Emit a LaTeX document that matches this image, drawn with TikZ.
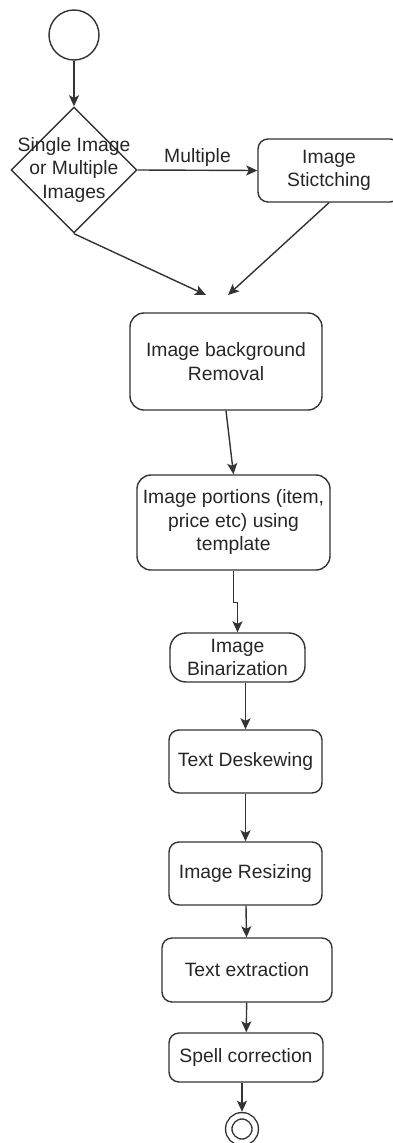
\documentclass[tikz,border=0pt]{standalone}
\usepackage{fontspec}
\setmainfont{Liberation Sans}
\usetikzlibrary{arrows.meta,shapes.geometric}

\begin{document}
\begin{tikzpicture}[x=1pt, y=-1pt,
		font=\fontsize{19.3}{23.5}\selectfont,
		line width=1.4pt,
		flow/.style={draw=black!80, -{Stealth[length=11pt,width=10pt,inset=2.5pt]}},
		stepbox/.style={draw=black!80, rounded corners=10pt, align=center, text=black!85, inner sep=0pt},
		decide/.style={draw=black!80, diamond, minimum width=126pt, minimum height=126pt, inner sep=0pt},
		startdot/.style={draw=black!80, circle, minimum size=50pt, inner sep=0pt},
		enddot/.style={draw=black!80, circle, minimum size=26.5pt, inner sep=0pt, double, double distance=5pt, outer sep=4pt}]
		%%%%% START %%%%%
		
		\clip (0,0) rectangle (393,1143);
		
		\node[startdot] (start) at (74,35) {};
		\node[decide, label={[align=center, text=black!85]center:Single Image\\or Multiple\\Images}] (dec) at (74,170) {};
		\node[stepbox, minimum width=142pt, minimum height=63pt] (stitch) at (329,170.5) {Image\\Stictching};
		\coordinate (jn1) at (206,295);
		\coordinate (jn2) at (228,295);
		
		\node[stepbox, minimum width=192pt, minimum height=97pt, rounded corners=14pt] (bg) at (226,361.5) {Image background\\Removal};
		\node[stepbox, minimum width=193pt, minimum height=95pt, rounded corners=14pt] (port) at (233.5,522.5) {Image portions (item,\\price etc) using\\template};
		\node[stepbox, minimum width=135pt, minimum height=49pt, rounded corners=16pt] (bin) at (237.5,657.5) {Image\\Binarization};
		\node[stepbox, minimum width=153pt, minimum height=63pt] (desk) at (245.5,761.5) {Text Deskewing};
		\node[stepbox, minimum width=153pt, minimum height=63pt] (resize) at (245.5,873.5) {Image Resizing};
		\node[stepbox, minimum width=170pt, minimum height=64pt] (extract) at (247,970) {Text extraction};
		\node[stepbox, minimum width=154pt, minimum height=49pt] (spell) at (246,1057.5) {Spell correction};
		\node[enddot] (stop) at (242,1129) {};
		
		\draw[flow] (start) -- (dec);
		\draw[flow] (dec.east) -- node[above, text=black!85] {Multiple} (stitch.west);
		\draw[flow] (dec.south) -- (jn1);
		\draw[flow] (stitch.south) -- (jn2);
		\draw[flow] (bg.south) -- (port.north);
		\draw[flow] (port.south) -- ++(0,32) -| (bin.north);
		\draw[flow] (bin.south -| desk.north) -- (desk.north);
		\draw[flow] (desk) -- (resize);
		\draw[flow] (resize) -- (extract);
		\draw[flow] (extract) -- (spell);
		\draw[flow] (stop.north |- spell.south) -- (stop);
		
		%%%%% END %%%%%
	\end{tikzpicture}
\end{document}
